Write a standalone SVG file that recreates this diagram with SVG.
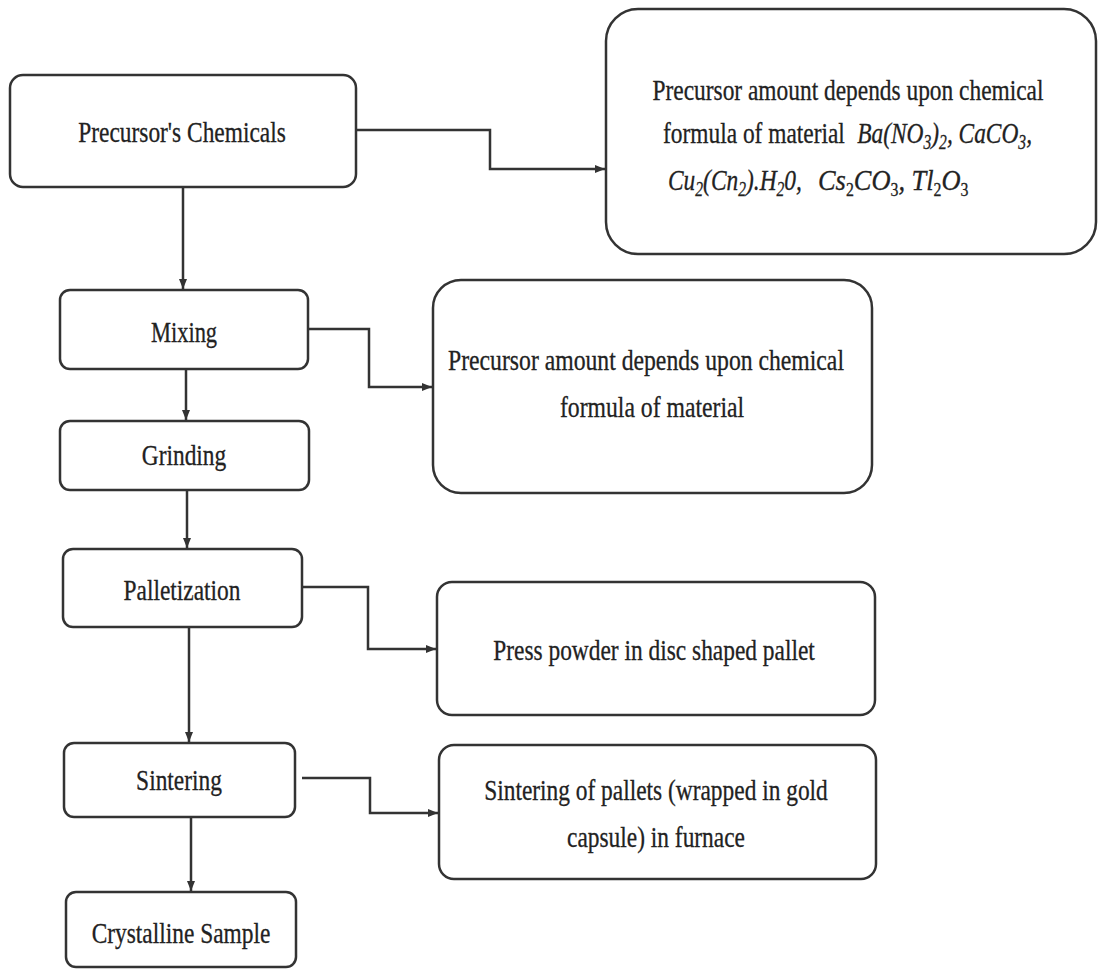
<svg xmlns="http://www.w3.org/2000/svg" width="1102" height="969" viewBox="0 0 1102 969">
<style>
.box{fill:#fff;stroke:#333;stroke-width:2.5}
.t{font-family:"Liberation Serif","Times New Roman",serif;font-size:30px;fill:#222;stroke:#222;stroke-width:0.3}
.c{text-anchor:middle}
.i{font-style:italic}
.ln{fill:none;stroke:#333;stroke-width:2.5}
</style>
<defs>
<marker id="ah" markerUnits="userSpaceOnUse" markerWidth="10" markerHeight="8" refX="10" refY="4" orient="auto">
<path d="M0,0 L10,4 L0,8 z" fill="#333"/>
</marker>
</defs>
<rect width="1102" height="969" fill="#fff"/>

<g id="connectors">
<polyline class="ln" points="356,130 490,130 490,169 605,169" marker-end="url(#ah)"/>
<line class="ln" x1="183" y1="187" x2="183" y2="289" marker-end="url(#ah)"/>
<polyline class="ln" points="308,329 369,329 369,387 432,387" marker-end="url(#ah)"/>
<line class="ln" x1="186" y1="369" x2="186" y2="420" marker-end="url(#ah)"/>
<line class="ln" x1="187" y1="490" x2="187" y2="548" marker-end="url(#ah)"/>
<polyline class="ln" points="302,587 368,587 368,649 436,649" marker-end="url(#ah)"/>
<line class="ln" x1="189" y1="627" x2="189" y2="742" marker-end="url(#ah)"/>
<polyline class="ln" points="302,778 370,778 370,813 438,813" marker-end="url(#ah)"/>
<line class="ln" x1="191" y1="817" x2="191" y2="891" marker-end="url(#ah)"/>
</g>

<g id="precursor">
<rect class="box" x="10" y="75" width="346" height="112" rx="13"/>
<text class="t c" transform="translate(182,142) scale(0.78,1)">Precursor's Chemicals</text>
</g>

<g id="note1">
<rect class="box" x="606" y="9" width="490" height="245" rx="32"/>
<text class="t c" transform="translate(848,100) scale(0.78,1)">Precursor amount depends upon chemical</text>
<text class="t" transform="translate(663,143) scale(0.78,1)">formula of material<tspan class="i" x="249">Ba(NO</tspan><tspan class="i" font-size="20" dy="6">3</tspan><tspan class="i" dy="-6">)</tspan><tspan class="i" font-size="20" dy="6">2</tspan><tspan class="i" dy="-6">, CaCO</tspan><tspan class="i" font-size="20" dy="6">3</tspan><tspan class="i" dy="-6">,</tspan></text>
<text class="t i" transform="translate(668,190) scale(0.78,1)">Cu<tspan font-size="20" dy="6">2</tspan><tspan dy="-6">(Cn</tspan><tspan font-size="20" dy="6">2</tspan><tspan dy="-6">).H</tspan><tspan font-size="20" dy="6">2</tspan><tspan dy="-6">0,</tspan></text>
<text class="t i" transform="translate(818,190) scale(0.88,1)" font-size="27" stroke-width="0">Cs<tspan font-size="18" font-style="normal" dy="6">2</tspan><tspan dy="-6">CO</tspan><tspan font-size="18" font-style="normal" dy="6">3</tspan><tspan dy="-6">, Tl</tspan><tspan font-size="18" font-style="normal" dy="6">2</tspan><tspan dy="-6">O</tspan><tspan font-size="18" font-style="normal" dy="6">3</tspan></text>
</g>

<g id="mixing">
<rect class="box" x="60" y="290" width="248" height="79" rx="10"/>
<text class="t c" transform="translate(184,342) scale(0.75,1)">Mixing</text>
</g>

<g id="note2">
<rect class="box" x="433" y="280" width="439" height="213" rx="28"/>
<text class="t c" transform="translate(646,370) scale(0.79,1)">Precursor amount depends upon chemical</text>
<text class="t c" transform="translate(652,417) scale(0.79,1)">formula of material</text>
</g>

<g id="grinding">
<rect class="box" x="60" y="421" width="249" height="69" rx="10"/>
<text class="t c" transform="translate(184,465) scale(0.78,1)">Grinding</text>
</g>

<g id="palletization">
<rect class="box" x="63" y="549" width="239" height="78" rx="10"/>
<text class="t c" transform="translate(182,600) scale(0.78,1)">Palletization</text>
</g>

<g id="note3">
<rect class="box" x="437" y="582" width="438" height="133" rx="15"/>
<text class="t c" transform="translate(654,660) scale(0.78,1)">Press powder in disc shaped pallet</text>
</g>

<g id="sintering">
<rect class="box" x="64" y="743" width="231" height="74" rx="10"/>
<text class="t c" transform="translate(179,790) scale(0.78,1)">Sintering</text>
</g>

<g id="note4">
<rect class="box" x="439" y="745" width="437" height="134" rx="15"/>
<text class="t c" transform="translate(656,800) scale(0.78,1)">Sintering  of pallets (wrapped in gold</text>
<text class="t c" transform="translate(656,847) scale(0.78,1)">capsule) in furnace</text>
</g>

<g id="crystalline">
<rect class="box" x="66" y="892" width="230" height="75" rx="10"/>
<text class="t c" transform="translate(181,943) scale(0.78,1)">Crystalline Sample</text>
</g>
</svg>
